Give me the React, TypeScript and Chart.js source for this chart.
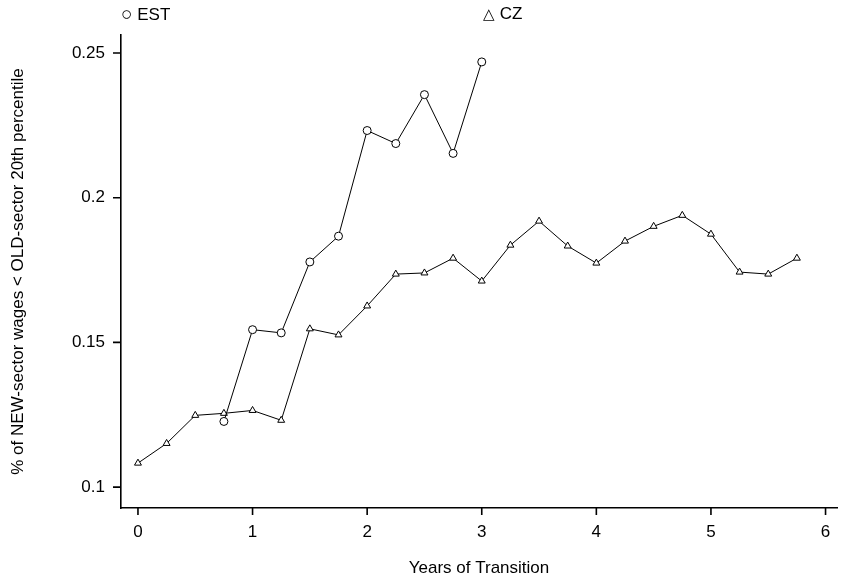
import React, { useEffect, useRef } from "react";
import { Chart, registerables } from "chart.js";
Chart.register(...registerables);

const estX = [0.75, 1, 1.25, 1.5, 1.75, 2, 2.25, 2.5, 2.75, 3];
const estY = [0.1227, 0.1544, 0.1533, 0.1778, 0.1867, 0.2232, 0.2187, 0.2356, 0.2153, 0.2469];
const czX = [0, 0.25, 0.5, 0.75, 1, 1.25, 1.5, 1.75, 2, 2.25, 2.5, 2.75, 3, 3.25, 3.5, 3.75, 4, 4.25, 4.5, 4.75, 5, 5.25, 5.5, 5.75];
const czY = [0.1083, 0.1151, 0.1248, 0.1255, 0.1265, 0.1231, 0.1547, 0.1526, 0.1626, 0.1736, 0.174, 0.1791, 0.1712, 0.1836, 0.1919, 0.1833, 0.1774, 0.185, 0.1901, 0.1939, 0.1874, 0.1743, 0.1736, 0.1791];
const xTicks = [0, 1, 2, 3, 4, 5, 6];
const yTicks = [0.1, 0.15, 0.2, 0.25];

const FONT = "'Liberation Sans', Arial, sans-serif";

export default function App() {
  const ref = useRef<HTMLCanvasElement>(null);
  useEffect(() => {
    document.body.style.margin = "0";
    const pts = (xs: number[], ys: number[]) => xs.map((x, i) => ({ x, y: ys[i] }));
    const common = { borderColor: "#000", borderWidth: 1, backgroundColor: "#fff", pointBorderColor: "#000", pointBackgroundColor: "#fff", pointBorderWidth: 1, pointRadius: 4, showLine: true, tension: 0 };
    const grid = { display: false };
    const outerTicks = {
      id: "outerTicks",
      afterDraw(c: any) {
        const ctx = c.ctx, xs = c.scales.x, ys = c.scales.y, a = c.chartArea;
        ctx.save(); ctx.strokeStyle = "#000"; ctx.lineWidth = 1.6; ctx.beginPath();
        for (const v of xTicks) { const p = xs.getPixelForValue(v); ctx.moveTo(p, a.bottom); ctx.lineTo(p, a.bottom + 7); }
        for (const v of yTicks) { const p = ys.getPixelForValue(v); ctx.moveTo(a.left, p); ctx.lineTo(a.left - 8, p); }
        ctx.stroke(); ctx.restore();
      },
    };
    const chart = new Chart(ref.current!, {
      type: "scatter",
      data: {
        datasets: [
          { ...common, label: "EST", data: pts(estX, estY), pointStyle: "circle" },
          { ...common, label: "CZ", data: pts(czX, czY), pointStyle: "triangle" },
        ],
      },
      options: {
        animation: false,
        responsive: false,
        layout: { padding: { top: 35, right: 2, left: 4, bottom: 0 } },
        plugins: { legend: { display: false }, tooltip: { enabled: false } },
        scales: {
          x: {
            type: "linear", min: -0.148, max: 6.1,
            afterBuildTicks: (s: any) => { s.ticks = xTicks.map((v) => ({ value: v })); },
            afterFit: (s: any) => { s.height = 75; },
            grid: grid as any,
            border: { color: "#000", width: 1.6 },
            ticks: { color: "#000", font: { family: FONT, size: 17 }, padding: 6, maxRotation: 0 },
            title: { display: true, text: "Years of Transition", color: "#000", font: { family: FONT, size: 17 }, padding: { top: 22 } },
          },
          y: {
            type: "linear", min: 0.0928, max: 0.2562,
            afterBuildTicks: (s: any) => { s.ticks = yTicks.map((v) => ({ value: v })); },
            afterFit: (s: any) => { s.width = 117; },
            grid: grid as any,
            border: { color: "#000", width: 1.6 },
            ticks: { color: "#000", font: { family: FONT, size: 17 }, padding: 8, callback: (v: any) => String(+(+v).toFixed(2)) },
            title: { display: true, text: "% of NEW-sector wages < OLD-sector 20th percentile", color: "#000", font: { family: FONT, size: 17 }, padding: { bottom: 6 } },
          },
        },
      },
      plugins: [outerTicks],
    });
    return () => chart.destroy();
  }, []);
  const legendStyle: React.CSSProperties = { position: "absolute", top: 4, fontFamily: FONT, fontSize: 17, color: "#000" };
  return (
    <div style={{ position: "relative", width: 842, height: 583 }}>
      <canvas ref={ref} width={842} height={583} style={{ width: 842, height: 583 }} />
      <div style={{ ...legendStyle, left: 121, top: 3 }}><span style={{ fontSize: 19 }}>○</span> EST</div>
      <div style={{ ...legendStyle, left: 483 }}><span style={{ fontSize: 15 }}>△</span> CZ</div>
    </div>
  );
}
